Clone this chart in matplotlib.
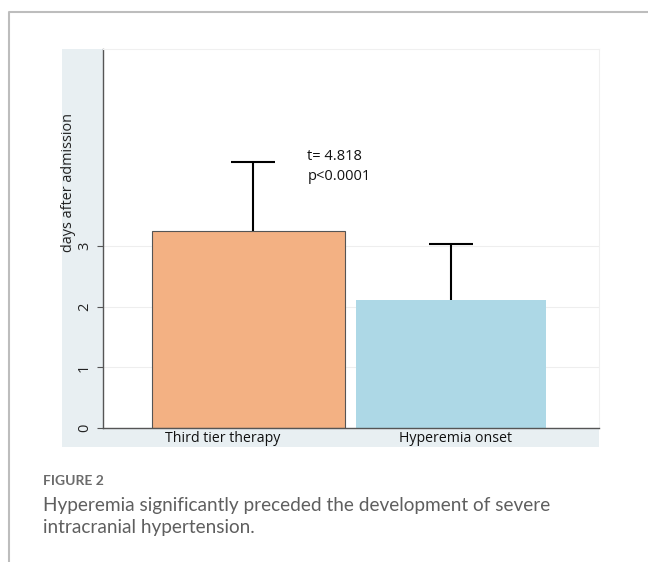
import numpy as np
import matplotlib.pyplot as plt
from matplotlib.patches import Rectangle
from matplotlib.lines import Line2D

groups = ["Third tier therapy", "Hyperemia onset"]
means = [3.25, 2.11]
upper = [4.38, 3.03]
bar_colors = ["#F3B183", "#ADD8E6"]
yticks = [0, 1, 2, 3]

W, H = 648, 562
fig = plt.figure(figsize=(W / 100, H / 100), dpi=100)
fig.patch.set_facecolor("white")

# outer frame (top + left gray line)
fig.add_artist(Line2D([9 / W, 9 / W, 1], [0, 1 - 12 / H, 1 - 12 / H],
                      transform=fig.transFigure, color="#bdbdbd", lw=1.5))

# stata-like graph region
fig.add_artist(Rectangle((62 / W, 1 - 447 / H), 537 / W, 398 / H,
                         transform=fig.transFigure, facecolor="#E8EFF2",
                         edgecolor="none", zorder=0))

ax = fig.add_axes([103 / W, 1 - 428 / H, 496 / W, 379 / H])
ax.set_facecolor("white")

x = np.arange(len(groups))
ax.bar(x[0], means[0], width=0.955, color=bar_colors[0], edgecolor="#555555", lw=0.8, zorder=2)
ax.bar(x[1], means[1], width=0.94, color=bar_colors[1], edgecolor="none", zorder=2)

# upper-only error bars
ex = x + np.array([0.02, 0.0])
ax.vlines(ex, means, upper, color="black", lw=1.5, zorder=3)
ax.hlines(upper, ex - 0.11, ex + 0.11, color="black", lw=1.5, zorder=3)

ax.set_xlim(-0.72, 1.73)
ax.set_ylim(0, 6.25)
ax.set_yticks(yticks)
ax.set_yticklabels([str(t) for t in yticks], rotation=90, va="center",
                   fontsize=10.5, family="Open Sans", color="#222222")
ax.set_xticks(x + np.array([-0.13, 0.02]))
ax.set_xticklabels(groups, fontsize=10.2, family="Open Sans", color="#111111")
ax.tick_params(axis="x", length=0, pad=2)
ax.tick_params(axis="y", length=4, width=0.8, color="#555555", pad=4)
ax.grid(axis="y", color="#eeeeee", lw=0.8, zorder=0)
ax.set_axisbelow(True)

for s in ["top", "right"]:
    ax.spines[s].set_color("#f0f0f0")
    ax.spines[s].set_linewidth(0.8)
for s in ["left", "bottom"]:
    ax.spines[s].set_color("#555555")
    ax.spines[s].set_linewidth(1.0)

fig.text(68 / W, 1 - 182 / H, "days after admission", rotation=90, ha="center",
         va="center", fontsize=10.4, family="Open Sans", color="#222222")

ax.text(0.29, 4.48, "t= 4.818", fontsize=10.5, family="Open Sans", va="center", color="#111111")
ax.text(0.29, 4.14, "p<0.0001", fontsize=10.5, family="Open Sans", va="center", color="#111111")

fig.text(43 / W, 1 - 481 / H, "FIGURE 2", fontsize=10, family="Lato", weight="bold",
         color="#6b6b6b", va="center")
fig.text(43 / W, 1 - 505 / H, "Hyperemia significantly preceded the development of severe",
         fontsize=13.7, family="Lato", color="#5f5f5f", va="center")
fig.text(43 / W, 1 - 527 / H, "intracranial hypertension.",
         fontsize=13.7, family="Lato", color="#5f5f5f", va="center")

plt.savefig("out.png", dpi=100, facecolor="white")
